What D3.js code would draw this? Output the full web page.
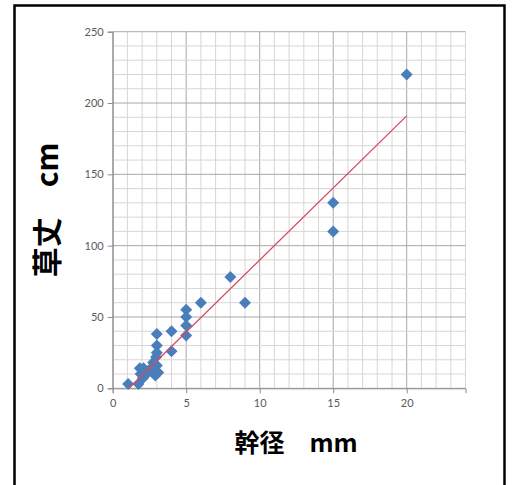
<!DOCTYPE html>
<html><head><meta charset="utf-8">
<script src="https://cdn.jsdelivr.net/npm/d3@7"></script>
<style>body{margin:0;background:#fff;}svg{display:block;}</style>
</head><body>
<script>
const stemDiameter = [20,15,15,8,9,6,5,5,5,5,4,4,3,3,3,2.95,2.75,3,2.9,3.1,2.9,2.4,2.1,1.85,1.75,2.05,1.05,2.6,2.3,1.9];
const plantHeight  = [220,130,110,78,60,60,55,50,44,37,40,26,38,30,25,22,18,16,11,11,9,12,14,14,3,7,3,14,10,10];
const trendX = [1.1, 20];
const trendY = [0, 191];
const xTicks = [0,5,10,15,20];
const yTicks = [0,50,100,150,200,250];
const xTitle = "幹径\u3000mm";
const yTitle = "草丈\u3000cm";

const W=513,H=485;
const svg=d3.select("body").append("svg").attr("width",W).attr("height",H);
svg.append("rect").attr("x",0).attr("y",0).attr("width",W).attr("height",H).attr("fill","#fff");
svg.append("rect").attr("x",14.5).attr("y",5.5).attr("width",490).attr("height",490)
  .attr("fill","none").attr("stroke","#000").attr("stroke-width",2.5);

const x=d3.scaleLinear().domain([0,24]).range([112.7,465.5]);
const y=d3.scaleLinear().domain([0,250]).range([388.3,31.7]);

const g=svg.append("g");
// minor grid
d3.range(0,25,1).forEach(v=>{
  g.append("line").attr("x1",x(v)).attr("x2",x(v)).attr("y1",y(0)).attr("y2",y(250))
   .attr("stroke", v%5===0?"#a8a8a8":"#d6d6d6").attr("stroke-width",1);
});
d3.range(0,251,10).forEach(v=>{
  g.append("line").attr("x1",x(0)).attr("x2",x(24)).attr("y1",y(v)).attr("y2",y(v))
   .attr("stroke", v%50===0?"#a8a8a8":"#d6d6d6").attr("stroke-width",1);
});

// axes
const yAxis=d3.axisLeft(y).tickValues(yTicks).tickSize(5).tickPadding(4);
const xAxis=d3.axisBottom(x).tickValues(xTicks).tickSize(5).tickPadding(6);
const ya=svg.append("g").attr("transform",`translate(${x(0)},0)`).call(yAxis);
const xa=svg.append("g").attr("transform",`translate(0,${y(0)})`).call(xAxis);
[ya,xa].forEach(a=>{
  a.select(".domain").attr("stroke","#8c8c8c");
  a.selectAll(".tick line").attr("stroke","#8c8c8c");
  a.selectAll(".tick text").attr("fill","#595959").attr("font-family","Lato, 'Open Sans', sans-serif").attr("font-size",11);
});

// points
const diamond="M0,-6L6,0L0,6L-6,0Z";
svg.append("g").selectAll("path").data(stemDiameter.map((d,i)=>[d,plantHeight[i]]))
  .join("path").attr("d",diamond)
  .attr("transform",d=>`translate(${x(d[0])},${y(d[1])})`)
  .attr("fill","#4a7ebb");

// trend line
svg.append("line").attr("x1",x(trendX[0])).attr("y1",y(trendY[0]))
  .attr("x2",x(trendX[1])).attr("y2",y(trendY[1]))
  .attr("stroke","#d9485a").attr("stroke-width",1.3);

// titles
svg.append("text").attr("x",296).attr("y",452).attr("text-anchor","middle")
  .attr("font-family","'Noto Sans CJK JP', sans-serif").attr("font-weight","bold")
  .attr("font-size",25).attr("fill","#000").text(xTitle);
svg.append("text").attr("transform","translate(58,210) rotate(-90)").attr("text-anchor","middle")
  .attr("font-family","'Noto Sans CJK JP', sans-serif").attr("font-weight","bold")
  .attr("font-size",30).attr("fill","#000").text(yTitle);
</script>
</body></html>
